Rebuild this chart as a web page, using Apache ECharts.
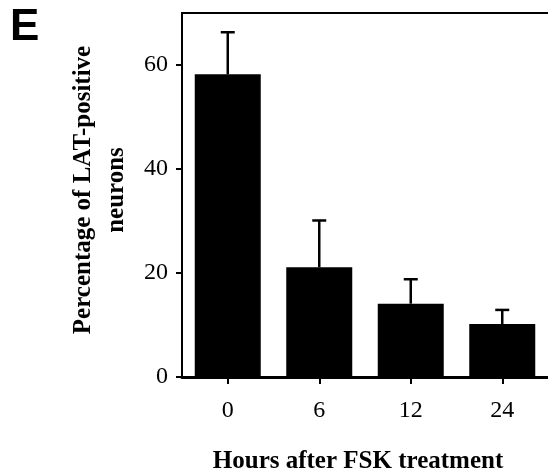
<!DOCTYPE html>
<html>
<head>
<meta charset="utf-8">
<script src="https://cdn.jsdelivr.net/npm/echarts@6/dist/echarts.min.js"></script>
<style>
html,body{margin:0;padding:0;background:#fff;}
#chart{width:548px;height:471px;}
</style>
</head>
<body>
<div id="chart"></div>
<script>
var categories = ['0', '6', '12', '24'];
var meanValues = [58.2, 21.1, 14.1, 10.2];
var errorTops = [66.3, 30.1, 18.8, 12.9];
var yTicks = [0, 20, 40, 60];
var panelLetter = 'E';
var xTitle = 'Hours after FSK treatment';
var yTitle = 'Percentage of LAT-positive\nneurons';

var serif = '"Liberation Serif", "Times New Roman", serif';
var chart = echarts.init(document.getElementById('chart'), null, {renderer: 'canvas'});

var option = {
  animation: false,
  backgroundColor: '#fff',
  title: {
    text: panelLetter,
    left: 5,
    top: 1,
    textStyle: {fontFamily: '"Liberation Sans", Arial, sans-serif', fontWeight: 'bold', fontSize: 44, color: '#000'}
  },
  grid: {left: 182, right: 0, top: 13, bottom: 94, containLabel: false, outerBoundsMode: 'none'},
  xAxis: [{
    type: 'category',
    data: categories,
    position: 'bottom',
    axisLine: {show: true, lineStyle: {color: '#000', width: 3}},
    axisTick: {show: true, alignWithLabel: true, length: 7, lineStyle: {color: '#000', width: 2}},
    axisLabel: {color: '#000', fontFamily: serif, fontSize: 24, margin: 22},
    name: xTitle,
    nameLocation: 'middle',
    nameGap: 72,
    nameTextStyle: {color: '#000', fontFamily: serif, fontSize: 25, fontWeight: 'bold', padding: [0, 14, 0, 0]}
  }, {
    type: 'category',
    data: categories,
    position: 'top',
    axisLine: {show: true, lineStyle: {color: '#000', width: 2}},
    axisTick: {show: false},
    axisLabel: {show: false}
  }],
  yAxis: {
    type: 'value',
    min: 0,
    max: 70,
    interval: 20,
    splitLine: {show: false},
    axisLine: {show: true, lineStyle: {color: '#000', width: 2}},
    axisTick: {show: true, length: 6, lineStyle: {color: '#000', width: 2}, customValues: yTicks},
    axisLabel: {color: '#000', fontFamily: serif, fontSize: 24, margin: 14, customValues: yTicks},
    name: yTitle,
    nameLocation: 'middle',
    nameRotate: 90,
    nameGap: 47,
    nameTextStyle: {color: '#000', fontFamily: serif, fontSize: 25, fontWeight: 'bold', lineHeight: 33, padding: [0, 0, 0, 10]}
  },
  series: [{
    type: 'bar',
    data: meanValues,
    barWidth: 66,
    itemStyle: {color: '#000'},
    z: 2
  }, {
    type: 'custom',
    data: categories.map(function (c, i) { return [i, meanValues[i], errorTops[i]]; }),
    renderItem: function (params, api) {
      var base = api.coord([api.value(0), api.value(1)]);
      var top = api.coord([api.value(0), api.value(2)]);
      var x = base[0];
      return {
        type: 'group',
        children: [{
          type: 'line',
          shape: {x1: x, y1: base[1], x2: x, y2: top[1]},
          style: {stroke: '#000', lineWidth: 2.5}
        }, {
          type: 'line',
          shape: {x1: x - 7, y1: top[1], x2: x + 7, y2: top[1]},
          style: {stroke: '#000', lineWidth: 2.5}
        }]
      };
    },
    z: 3
  }]
};
chart.setOption(option);
</script>
</body>
</html>
